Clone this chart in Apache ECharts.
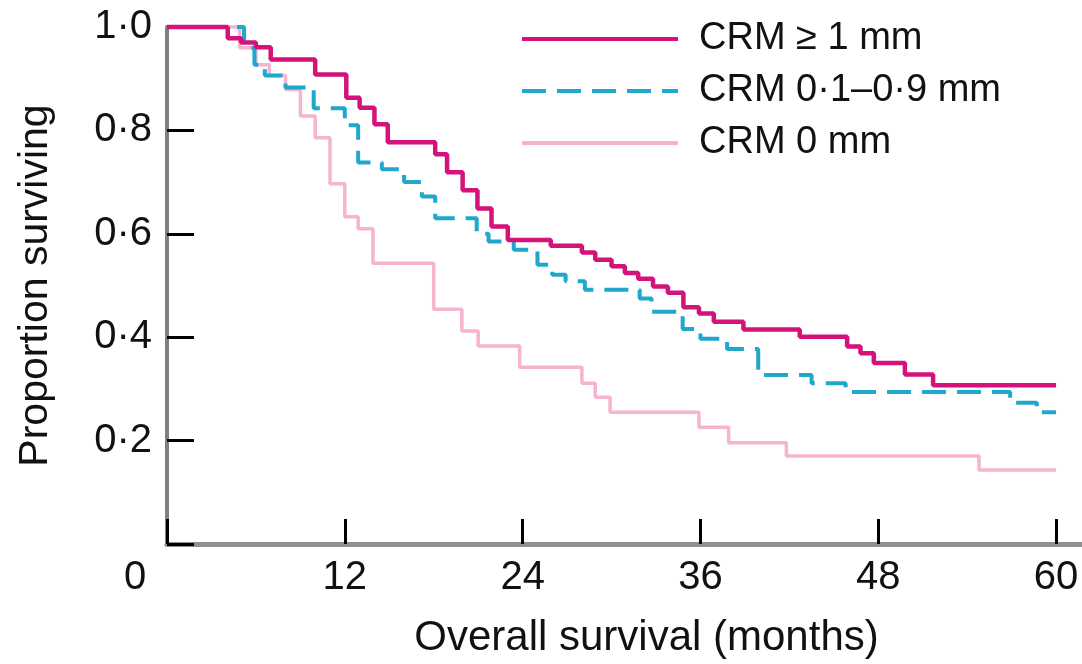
<!DOCTYPE html>
<html><head><meta charset="utf-8">
<script src="https://cdn.jsdelivr.net/npm/echarts@6/dist/echarts.min.js"></script>
<style>html,body{margin:0;padding:0;background:#fff}#c{width:1082px;height:664px}</style>
</head><body><div id="c"></div>
<script>
const seriesNames = ['CRM ≥ 1 mm', 'CRM 0·1–0·9 mm', 'CRM 0 mm'];
const xTickValues = [0, 12, 24, 36, 48, 60];
const yTickValues = [0, 0.2, 0.4, 0.6, 0.8, 1.0];

const crm1Months = [0, 4.1, 5.0, 6.0, 7.0, 10.0, 12.1, 13.0, 14.0, 14.9, 18.1, 18.9, 19.95, 20.95, 21.9, 23.0, 25.9, 28.0, 28.9, 30.0, 30.9, 31.8, 32.8, 33.8, 34.85, 35.9, 36.9, 38.9, 42.7, 45.9, 46.8, 47.7, 49.8, 51.7, 60];
const crm1Surv   = [1.0, 0.978, 0.970, 0.961, 0.937, 0.908, 0.863, 0.844, 0.812, 0.777, 0.754, 0.719, 0.684, 0.649, 0.614, 0.588, 0.577, 0.564, 0.550, 0.537, 0.524, 0.513, 0.498, 0.486, 0.458, 0.446, 0.430, 0.415, 0.401, 0.382, 0.369, 0.350, 0.328, 0.307, 0.307];

const crm01Months = [0, 5.2, 5.9, 6.6, 8.0, 9.9, 12.0, 12.9, 14.5, 16.0, 17.2, 18.1, 20.9, 21.7, 23.4, 25.0, 26.0, 26.9, 28.2, 31.9, 32.7, 34.8, 36.0, 37.8, 39.9, 43.5, 45.8, 56.9, 58.7, 60];
const crm01Surv   = [1.0, 0.96, 0.927, 0.906, 0.883, 0.843, 0.81, 0.738, 0.725, 0.70, 0.672, 0.63, 0.60, 0.585, 0.569, 0.54, 0.521, 0.508, 0.492, 0.475, 0.449, 0.416, 0.397, 0.377, 0.327, 0.311, 0.294, 0.273, 0.255, 0.255];

const crm0Months = [0, 4.9, 6.0, 6.9, 8.0, 9.0, 10.0, 11.0, 12.0, 12.9, 13.9, 18.0, 19.9, 21.0, 23.8, 28.0, 28.9, 29.9, 35.9, 37.9, 41.8, 54.8, 60];
const crm0Surv   = [1.0, 0.96, 0.927, 0.906, 0.879, 0.828, 0.786, 0.697, 0.633, 0.61, 0.543, 0.454, 0.412, 0.383, 0.342, 0.311, 0.284, 0.255, 0.226, 0.196, 0.170, 0.143, 0.143];

const colors = ['#d4137a', '#1fa8cc', '#f6b4d0'];
const FONT = "'Liberation Sans', Arial, sans-serif";

function pairs(xs, ys) { return xs.map((x, i) => [x, ys[i]]); }
function fmtY(v) { return v === 0 ? '' : v.toFixed(1).replace('.', '·'); }

const chart = echarts.init(document.getElementById('c'), null, {renderer: 'canvas'});
chart.setOption({
  animation: false,
  backgroundColor: '#fff',
  grid: {left: 167, right: 0, top: 27, bottom: 116, containLabel: false},
  legend: {
    orient: 'vertical', left: 515, top: 12,
    itemWidth: 156, itemHeight: 20, itemGap: 8,
    itemStyle: {opacity: 0},
    lineStyle: {width: 4},
    data: seriesNames,
    textStyle: {fontFamily: FONT, fontSize: 38, color: '#111', lineHeight: 44, padding: [0, 0, 0, 16]}
  },
  xAxis: {
    type: 'value', min: 0, max: 61.75, interval: 12,
    name: 'Overall survival (months)', nameLocation: 'middle', nameGap: 73,
    nameTextStyle: {fontFamily: FONT, fontSize: 42, color: '#111', padding: [0, 0, 0, 44]},
    axisLine: {show: true, lineStyle: {color: '#8f8f8f', width: 5}},
    axisTick: {show: true, inside: true, length: 25, customValues: xTickValues, lineStyle: {color: '#000', width: 3}},
    axisLabel: {
      customValues: xTickValues, margin: 14,
      fontFamily: FONT, fontSize: 40, color: '#111',
      formatter: v => v === 0 ? '{z|0}' : String(v),
      rich: {z: {fontFamily: FONT, fontSize: 40, color: '#111', padding: [0, 64, 0, 0]}}
    },
    splitLine: {show: false}
  },
  yAxis: {
    type: 'value', min: 0, max: 1, interval: 0.2,
    name: 'Proportion surviving', nameLocation: 'middle', nameGap: 111, nameRotate: 90,
    nameTextStyle: {fontFamily: FONT, fontSize: 41, color: '#111'},
    axisLine: {show: true, lineStyle: {color: '#808080', width: 4}},
    axisTick: {show: true, inside: true, length: 27, customValues: yTickValues, lineStyle: {color: '#000', width: 3}},
    axisLabel: {customValues: yTickValues, margin: 15, fontFamily: FONT, fontSize: 40, color: '#111', formatter: fmtY},
    splitLine: {show: false}
  },
  series: [
    {name: seriesNames[2], type: 'line', step: 'end', symbol: 'none', clip: false, z: 2,
     data: pairs(crm0Months, crm0Surv), color: colors[2], lineStyle: {color: colors[2], width: 3.5}},
    {name: seriesNames[1], type: 'line', step: 'end', symbol: 'none', clip: false, z: 3,
     data: pairs(crm01Months, crm01Surv), color: colors[1], lineStyle: {color: colors[1], width: 4, type: [24, 11]}},
    {name: seriesNames[0], type: 'line', step: 'end', symbol: 'none', clip: false, z: 4,
     data: pairs(crm1Months, crm1Surv), color: colors[0], lineStyle: {color: colors[0], width: 4.5}}
  ]
});
</script>
</body></html>
